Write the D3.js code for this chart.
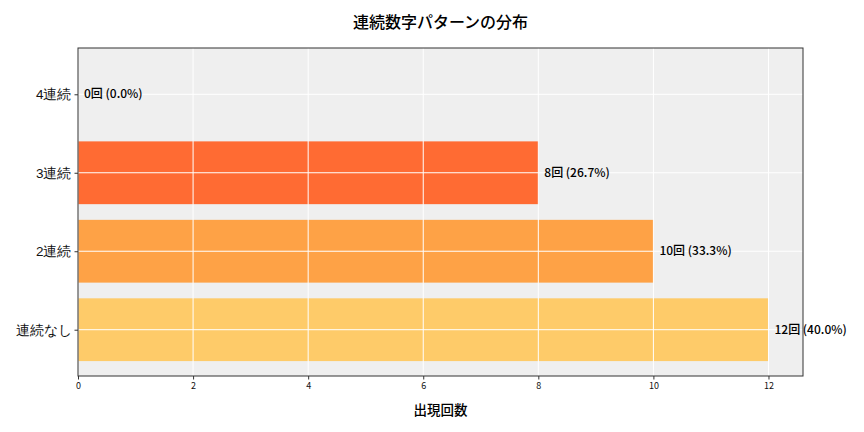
<!DOCTYPE html>
<html><head><meta charset="utf-8">
<script src="https://cdn.jsdelivr.net/npm/d3@7"></script>
<style>body{margin:0;background:#fff}svg{display:block;font-family:"Noto Sans CJK JP","Noto Sans",sans-serif}</style>
</head><body><svg id="c" width="864" height="432"></svg>
<script>
const categories = ["連続なし", "2連続", "3連続", "4連続"];
const counts = [12, 10, 8, 0];
const percents = [40.0, 33.3, 26.7, 0.0];
const colors = ["#FECB69", "#FEA246", "#FF6B33", "#FF4A1C"];
const xTicks = [0, 2, 4, 6, 8, 10, 12];
const title = "連続数字パターンの分布";
const xLabel = "出現回数";

const svg = d3.select("#c");
const m = {l: 78, r: 803, t: 48, b: 376};
const x = d3.scaleLinear().domain([0, 12.6]).range([m.l, m.r]);
const y = d3.scaleLinear().domain([-0.59, 3.59]).range([m.b, m.t]);

svg.append("rect").attr("x", m.l).attr("y", m.t).attr("width", m.r - m.l).attr("height", m.b - m.t).attr("fill", "#efefef");

const bh = y(0) - y(0.8);
svg.selectAll("rect.bar").data(counts).join("rect").attr("class", "bar")
  .attr("x", x(0)).attr("y", (d, i) => y(i + 0.4))
  .attr("width", d => x(d) - x(0)).attr("height", bh)
  .attr("fill", (d, i) => colors[i]);

// grid on top
const g = svg.append("g").attr("stroke", "#fff").attr("stroke-width", 1);
xTicks.forEach(t => g.append("line").attr("x1", x(t)).attr("x2", x(t)).attr("y1", m.t).attr("y2", m.b));
categories.forEach((c, i) => g.append("line").attr("x1", m.l).attr("x2", m.r).attr("y1", y(i)).attr("y2", y(i)));

svg.selectAll("text.ann").data(counts).join("text").attr("class", "ann")
  .attr("x", d => x(d) + 6).attr("y", (d, i) => y(i)).attr("dy", "0.35em")
  .attr("font-size", 12).attr("font-weight", 500).attr("fill", "#000")
  .text((d, i) => `${d}回 (${percents[i].toFixed(1)}%)`);

svg.append("rect").attr("x", m.l).attr("y", m.t).attr("width", m.r - m.l).attr("height", m.b - m.t)
  .attr("fill", "none").attr("stroke", "#333").attr("stroke-width", 1);

const xa = svg.append("g").attr("transform", `translate(0,${m.b})`)
  .call(d3.axisBottom(x).tickValues(xTicks).tickFormat(d3.format("d")).tickSize(3.5).tickPadding(3));
xa.select(".domain").remove();
xa.selectAll("text").attr("font-size", 9).attr("fill", "#111").attr("font-family", "'Noto Sans CJK JP'");
xa.selectAll("line").attr("stroke", "#333");

const ya = svg.append("g").attr("transform", `translate(${m.l},0)`)
  .call(d3.axisLeft(y).tickValues([0, 1, 2, 3]).tickFormat(i => categories[i]).tickSize(3.5).tickPadding(3));
ya.select(".domain").remove();
ya.selectAll("text").attr("font-size", 13.5).attr("fill", "#111");
ya.selectAll("line").attr("stroke", "#333");

svg.append("text").attr("x", (m.l + m.r) / 2).attr("y", 28).attr("text-anchor", "middle")
  .attr("font-size", 16).attr("font-weight", 500).attr("fill", "#000").text(title);
svg.append("text").attr("x", (m.l + m.r) / 2).attr("y", 415).attr("text-anchor", "middle")
  .attr("font-size", 13.5).attr("font-weight", 500).attr("fill", "#000").text(xLabel);
</script></body></html>
